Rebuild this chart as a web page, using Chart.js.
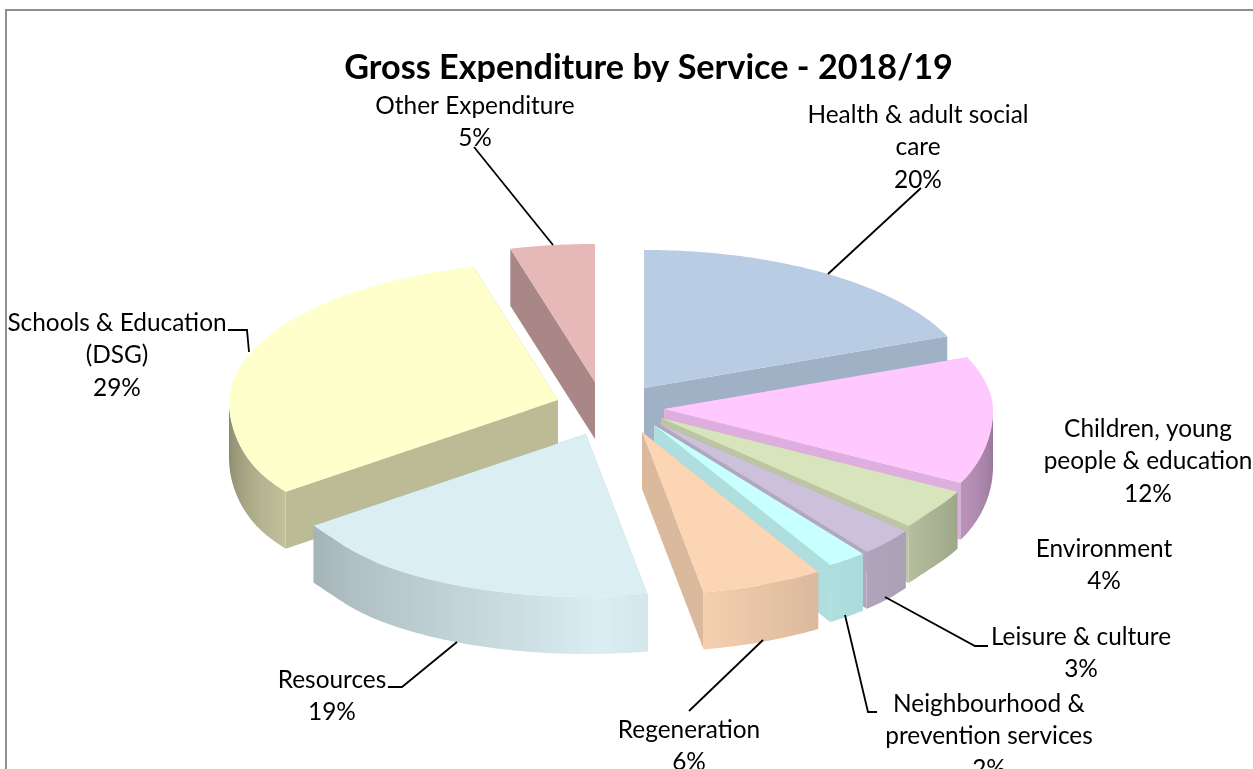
<!DOCTYPE html>
<html>
<head>
<meta charset="utf-8">
<style>html,body{margin:0;padding:0;background:#fff;overflow:hidden}canvas{display:block}</style>
<script src="https://cdn.jsdelivr.net/npm/chart.js@4"></script>
</head>
<body>
<canvas id="c" width="1253" height="769"></canvas>
<script>
const titleText = 'Gross Expenditure by Service - 2018/19';
const categories = ['Health & adult social care','Children, young people & education','Environment','Leisure & culture','Neighbourhood & prevention services','Regeneration','Resources','Schools & Education (DSG)','Other Expenditure'];
const values = [20,12,4,3,2,6,19,29,5];
const colors = ['#B8CCE4','#FFC8FF','#D8E4BC','#CCC0DA','#C8FFFF','#FCD5B4','#DAEEF3','#FFFFCC','#E6B8B7'];

// Explosion of each slice, in pixels, relative to the pie centre
const explodeX = [-4.5,15.5,12.5,9.5,5.5,-6.5,-62.5,-90.5,-53.5];
const explodeY = [-39.7,-18.7,-9.7,-4.7,-2.7,4.3,6.3,-27.7,-45.7];
const paintOrder = [8,0,7,1,2,3,4,5,6];
const depth = 57;
const pieRadius = 329;

// Label text placement
const labelLines = [
  ['Health & adult social','care'],['Children, young','people & education'],['Environment'],['Leisure & culture'],
  ['Neighbourhood &','prevention services'],['Regeneration'],['Resources'],['Schools & Education','(DSG)'],['Other Expenditure']
];
const labelX = [918,1148,1104,1081,989,689,332,117,475];
const labelY = [115,429,549,637,704,730,680,323,106];
const leaders = [
  [[921,188],[828,274]],null,null,
  [[885,597],[975,646],[988,646]],
  [[845,615],[868,712],[877,712]],
  [[689,711],[763,640]],
  [[388,687],[402,687],[457,642]],
  [[228,330],[247,330],[249,352]],
  [[474,147],[553,245]]
];
const shadeAngles = [0,25,40,58,79,88,100,147,180];
const shadeFactors = [.58,.73,.84,.87,.97,1,.94,.76,.52];

function shade(hex,f){
  const n=parseInt(hex.slice(1),16);
  return `rgb(${Math.round((n>>16&255)*f)},${Math.round((n>>8&255)*f)},${Math.round((n&255)*f)})`;
}
function wallFactor(a){
  let d=a*180/Math.PI;
  for(let i=1;i<shadeAngles.length;i++){
    if(d<=shadeAngles[i]){
      const t=(d-shadeAngles[i-1])/(shadeAngles[i]-shadeAngles[i-1]);
      return shadeFactors[i-1]+t*(shadeFactors[i]-shadeFactors[i-1]);
    }
  }
  return shadeFactors[shadeFactors.length-1];
}
function projector(ax,ay,R){
  return function(a){
    const u=R*Math.cos(a), v=R*Math.sin(a), n=v/R;
    const sx = n<0 ? 1-.18*Math.pow(-n,1.5) : 1-.025*Math.exp(-Math.pow((n-.6)/.13,2));
    const ry = n<0 ? .55-.13*Math.abs(n) : .55-.055*n;
    return [ax+u*sx, ay+v*ry];
  };
}
function paintSlice(ctx,el,i){
  const p=el.getProps(['x','y','startAngle','endAngle','outerRadius']);
  const color=el.options.backgroundColor;
  const ax=p.x+explodeX[i], ay=p.y+explodeY[i];
  const P=projector(ax,ay,p.outerRadius);
  const s=p.startAngle, e=p.endAngle, N=Math.max(8,Math.ceil((e-s)*60));
  const edge=a=>Math.cos(a)<0?.735:.87;

  // radial walls
  [s,e].forEach(a=>{
    const q=P(a);
    ctx.beginPath();ctx.moveTo(ax,ay);ctx.lineTo(q[0],q[1]);ctx.lineTo(q[0],q[1]+depth);ctx.lineTo(ax,ay+depth);ctx.closePath();
    ctx.fillStyle=shade(color,edge(a));ctx.fill();
  });

  // outer curved wall on the part of the rim that faces the viewer
  const norm=a=>{const t=2*Math.PI;return ((a%t)+t)%t;};
  let w0=null,w1=null;
  for(let k=0;k<=400;k++){
    const a=s+(e-s)*k/400;
    if(Math.sin(a)>=0){ if(w0===null)w0=a; w1=a; }
  }
  if(w0!==null && w1>w0){
    const pts=[];const M=Math.max(8,Math.ceil((w1-w0)*90));
    for(let k=0;k<=M;k++)pts.push(w0+(w1-w0)*k/M);
    const xs=pts.map(a=>P(a)[0]);
    const x0=Math.min(...xs),x1=Math.max(...xs);
    const g=ctx.createLinearGradient(x0,0,x1,0);
    pts.forEach((a,k)=>{
      const off=Math.min(1,Math.max(0,(xs[k]-x0)/(x1-x0)));
      g.addColorStop(off,shade(color,wallFactor(norm(a))));
    });
    ctx.beginPath();
    pts.forEach((a,k)=>{const q=P(a);k?ctx.lineTo(q[0],q[1]):ctx.moveTo(q[0],q[1]);});
    pts.slice().reverse().forEach(a=>{const q=P(a);ctx.lineTo(q[0],q[1]+depth);});
    ctx.closePath();ctx.fillStyle=g;ctx.fill();
  }

  // top face
  ctx.beginPath();ctx.moveTo(ax,ay);
  for(let k=0;k<=N;k++){const q=P(s+(e-s)*k/N);ctx.lineTo(q[0],q[1]);}
  ctx.closePath();ctx.fillStyle=color;ctx.fill();
}

const pie3d={
  id:'pie3d',
  beforeDatasetsDraw(chart){
    const ctx=chart.ctx, meta=chart.getDatasetMeta(0);
    ctx.save();
    // title strip is cut off by the plot box in the source
    ctx.fillStyle='#fff';ctx.fillRect(300,82,700,18);
    // frame
    ctx.strokeStyle='#8F8F8F';ctx.lineWidth=2;
    ctx.beginPath();ctx.moveTo(6,769);ctx.lineTo(6,10);ctx.lineTo(1253,10);ctx.stroke();
    paintOrder.forEach(i=>paintSlice(ctx,meta.data[i],i));
    // leader lines
    ctx.strokeStyle='#000';ctx.lineWidth=1.8;
    leaders.forEach(l=>{
      if(!l)return;
      ctx.beginPath();l.forEach((q,k)=>k?ctx.lineTo(q[0],q[1]):ctx.moveTo(q[0],q[1]));ctx.stroke();
    });
    // labels
    ctx.fillStyle='#000';ctx.font='24.4px Lato';ctx.textAlign='center';ctx.textBaseline='middle';
    values.forEach((v,i)=>{
      const lines=labelLines[i].concat([v+'%']);
      lines.forEach((t,k)=>ctx.fillText(t,labelX[i],labelY[i]+k*32.6));
    });
    ctx.restore();
    return false;
  }
};

new Chart(document.getElementById('c'),{
  type:'pie',
  data:{labels:categories,datasets:[{data:values,backgroundColor:colors,borderWidth:0,radius:pieRadius}]},
  options:{
    responsive:false,animation:false,
    layout:{padding:{left:44}},
    plugins:{
      legend:{display:false},tooltip:{enabled:false},
      title:{display:true,fullSize:false,text:titleText,color:'#000',font:{family:'Lato',size:34.2,weight:'bold',lineHeight:1.1},padding:{top:49,bottom:0}}
    }
  },
  plugins:[pie3d]
});
</script>
</body>
</html>
